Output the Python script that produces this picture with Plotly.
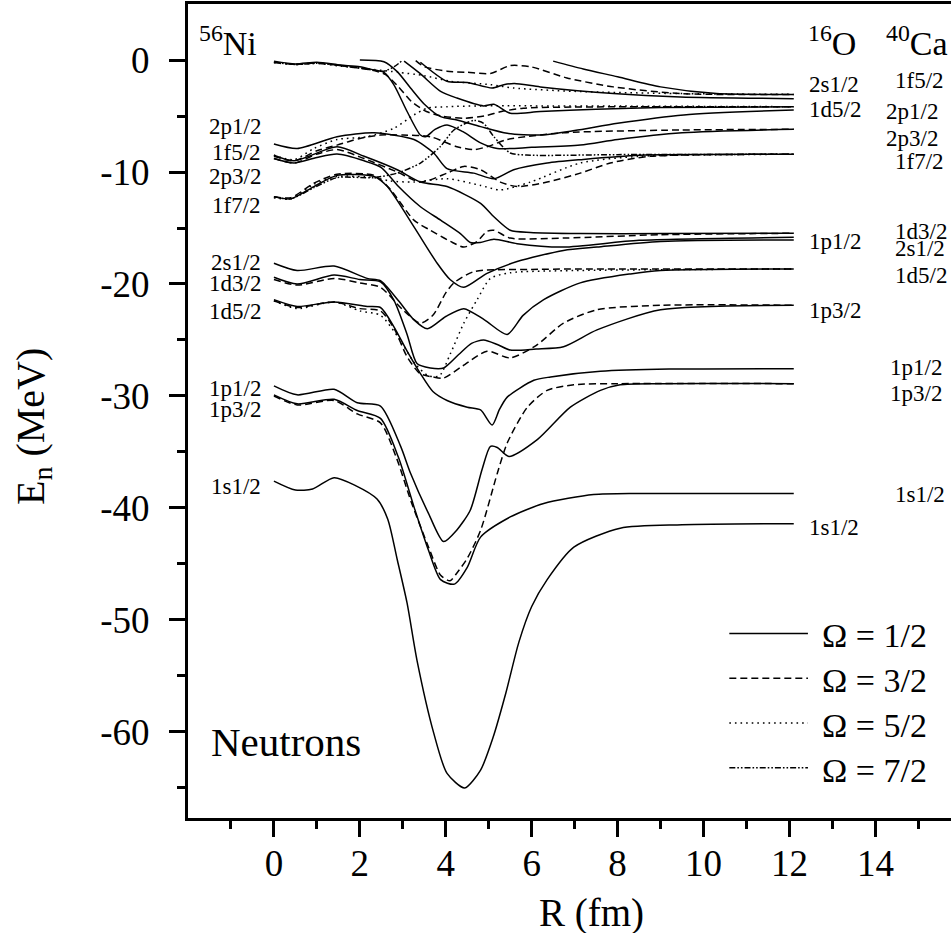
import plotly.graph_objects as go

FONT = "Liberation Serif"

# ---------------- Omega = 1/2 (solid) ----------------
R_s1 = [0, 0.5, 0.9, 1.4, 1.9, 2.4, 2.65, 2.87, 3.1, 3.33, 3.72, 4.03, 4.44, 4.81, 5.1, 5.4, 5.7, 6.0, 6.36, 6.98, 8.06, 9.5, 12.1]
E_s1 = [-37.6, -38.4, -38.3, -37.3, -38.0, -39.2, -41.0, -44.6, -48.5, -53.6, -60.1, -63.7, -65.0, -63.4, -60.5, -56.5, -52.0, -48.8, -46.4, -43.5, -41.8, -41.5, -41.4]

R_s2 = [0, 0.54, 1.4, 1.94, 2.48, 2.9, 3.26, 3.6, 3.88, 4.2, 4.5, 4.81, 5.5, 6.28, 7.44, 8.5, 12.1]
E_s2 = [-29.9, -30.7, -30.3, -31.3, -32.0, -35.5, -39.9, -43.8, -46.4, -46.8, -45.3, -42.6, -40.8, -39.6, -38.8, -38.7, -38.7]

R_s3 = [0, 0.54, 1.4, 1.94, 2.48, 2.95, 3.18, 3.6, 3.95, 4.25, 4.57, 4.85, 5.04, 5.2, 5.47, 6.13, 6.9, 7.6, 8.06, 9.0, 12.1]
E_s3 = [-29.1, -29.9, -29.4, -30.6, -30.9, -34.5, -36.9, -40.5, -43.0, -42.0, -40.2, -36.5, -34.5, -34.6, -35.4, -33.9, -31.0, -29.5, -29.0, -28.9, -28.9]

R_s4 = [0, 0.54, 1.4, 2.17, 2.48, 2.79, 3.1, 3.41, 3.7, 4.03, 4.5, 4.81, 5.08, 5.25, 5.43, 6.05, 6.44, 7.6, 9.2, 12.1]
E_s4 = [-21.4, -22.0, -21.6, -22.0, -22.1, -23.8, -26.0, -28.0, -29.6, -30.4, -31.0, -31.25, -32.6, -31.2, -30.1, -28.6, -28.3, -27.8, -27.6, -27.56]

R_s5 = [0, 0.54, 1.4, 2.0, 2.48, 2.8, 3.1, 3.33, 3.64, 3.95, 4.3, 4.6, 4.88, 5.2, 5.5, 6.1, 6.74, 7.52, 9.0, 12.1]
E_s5 = [-19.4, -20.0, -19.2, -19.6, -19.8, -21.5, -24.5, -27.1, -27.5, -27.5, -26.3, -25.3, -25.0, -25.4, -25.9, -25.8, -25.6, -24.1, -22.3, -21.9]

R_s6 = [0, 0.54, 1.4, 2.17, 2.48, 2.9, 3.26, 3.57, 4.0, 4.42, 4.9, 5.43, 5.8, 6.28, 7.13, 8.3, 9.0, 12.1]
E_s6 = [-18.15, -18.8, -18.4, -19.5, -19.7, -21.5, -23.2, -24.0, -22.9, -22.2, -23.2, -24.5, -22.8, -21.4, -19.9, -19.1, -18.8, -18.66]

R_s7 = [0, 0.39, 0.93, 1.47, 2.33, 2.64, 3.26, 3.8, 4.1, 4.42, 4.96, 5.66, 6.74, 7.52, 9.0, 12.1]
E_s7 = [-12.2, -12.4, -11.3, -10.3, -10.4, -11.3, -14.9, -18.15, -19.6, -20.3, -19.05, -18.0, -17.0, -16.7, -16.2, -16.07]

R_s8 = [0, 0.47, 1.0, 1.47, 2.1, 2.5, 2.9, 3.41, 3.88, 4.34, 4.57, 4.8, 5.12, 5.66, 6.74, 8.5, 12.1]
E_s8 = [-8.8, -9.2, -8.7, -8.4, -9.0, -9.6, -11.3, -13.1, -14.3, -15.5, -16.3, -16.3, -16.0, -16.4, -16.7, -16.1, -15.83]

R_s9 = [0, 0.47, 1.47, 2.1, 2.87, 3.41, 4.03, 4.81, 5.12, 5.5, 5.97, 7.13, 9.0, 12.1]
E_s9 = [-8.5, -9.0, -7.75, -8.6, -9.8, -10.9, -11.3, -12.8, -14.0, -15.2, -15.4, -15.5, -15.5, -15.47]

R_s10 = [0, 0.54, 1.47, 2.33, 3.26, 3.72, 4.03, 4.65, 5.12, 5.58, 6.36, 7.13, 8.5, 12.1]
E_s10 = [-7.5, -7.9, -6.85, -6.5, -7.1, -8.3, -9.7, -10.1, -10.6, -9.8, -9.2, -8.9, -8.5, -8.42]

R_s11 = [0, 0.5, 1.0, 1.55, 2.0, 2.33, 2.56, 2.79, 3.1, 3.41, 3.53, 3.75, 4.03, 4.4, 4.81, 5.2, 6.0, 7.13, 8.0, 9.5, 12.1]
E_s11 = [-0.1, -0.35, -0.2, -0.45, -0.6, -0.9, -1.1, -2.2, -4.6, -6.7, -6.85, -6.2, -5.8, -6.4, -7.4, -7.9, -7.8, -7.6, -7.1, -6.5, -6.19]

R_s12 = [2.0, 2.56, 2.87, 3.18, 3.49, 3.88, 4.26, 4.81, 5.43, 6.2, 7.0, 8.0, 9.54, 12.1]
E_s12 = [0.0, -0.15, -1.04, -2.5, -3.9, -5.06, -5.36, -5.95, -6.55, -6.7, -6.3, -5.65, -4.9, -4.46]

R_s13 = [3.03, 3.4, 3.88, 4.26, 4.88, 5.12, 5.5, 6.2, 7.5, 9.0, 12.1]
E_s13 = [-0.1, -1.2, -2.8, -3.4, -4.1, -3.96, -4.76, -4.6, -4.4, -4.25, -4.17]

R_s14 = [3.41, 4.03, 4.5, 5.08, 5.35, 5.6, 6.2, 7.9, 9.46, 12.1]
E_s14 = [-0.2, -1.9, -2.0, -2.5, -2.2, -2.1, -2.4, -3.0, -3.3, -3.45]

R_s15 = [6.5, 7.2, 8.0, 9.0, 10.3, 12.1]
E_s15 = [-0.1, -0.8, -1.5, -2.4, -3.0, -3.07]

# ---------------- Omega = 3/2 (dashed) ----------------
R_d1 = [0, 0.54, 1.4, 1.94, 2.48, 2.85, 3.2, 3.6, 3.88, 4.1, 4.26, 4.5, 4.81, 5.2, 5.43, 5.9, 6.36, 6.98, 8.0, 12.1]
E_d1 = [-30.0, -30.8, -30.4, -31.6, -32.4, -35.5, -39.5, -43.5, -46.0, -46.5, -45.8, -44.5, -42.0, -36.9, -34.2, -31.0, -29.5, -29.0, -28.9, -28.9]

R_d2 = [0, 0.54, 1.4, 2.0, 2.48, 2.8, 3.1, 3.4, 3.7, 3.95, 4.4, 4.96, 5.5, 6.1, 6.74, 7.52, 9.0, 12.1]
E_d2 = [-21.5, -22.1, -21.6, -22.2, -22.4, -24.0, -26.5, -28.0, -28.3, -28.4, -27.3, -26.0, -26.6, -25.5, -23.5, -22.3, -21.9, -21.9]

R_d3 = [0, 0.54, 1.4, 2.0, 2.48, 3.0, 3.41, 3.7, 4.0, 4.19, 4.65, 6.0, 12.1]
E_d3 = [-19.6, -20.1, -19.5, -19.9, -20.3, -22.3, -23.5, -22.8, -20.8, -19.9, -18.9, -18.7, -18.66]

R_d4 = [0, 0.39, 0.93, 1.47, 2.33, 2.7, 3.26, 3.64, 4.11, 4.42, 4.73, 4.96, 5.12, 5.5, 6.74, 9.0, 12.1]
E_d4 = [-12.2, -12.3, -11.0, -10.2, -10.3, -11.5, -14.3, -15.2, -16.2, -16.7, -16.2, -15.3, -15.2, -15.9, -15.9, -15.6, -15.47]

R_d5 = [0, 0.47, 1.0, 1.47, 2.1, 2.87, 3.41, 4.03, 4.42, 4.81, 5.27, 5.66, 6.36, 7.13, 7.83, 8.76, 12.1]
E_d5 = [-8.8, -9.2, -8.4, -8.0, -8.8, -10.0, -10.9, -10.1, -9.5, -9.8, -10.9, -11.3, -10.9, -10.1, -9.2, -8.6, -8.42]

R_d6 = [0, 0.47, 1.0, 1.47, 2.0, 2.48, 3.0, 3.64, 4.26, 4.65, 5.0, 5.43, 6.74, 9.46, 12.1]
E_d6 = [-8.6, -9.0, -8.1, -7.6, -7.0, -6.7, -6.7, -6.85, -7.74, -8.0, -7.7, -7.1, -6.5, -6.25, -6.19]

R_d7 = [0, 0.5, 1.0, 1.55, 2.33, 2.6, 2.9, 3.2, 3.55, 3.9, 4.4, 4.9, 5.3, 5.8, 7.0, 12.1]
E_d7 = [-0.2, -0.4, -0.25, -0.5, -0.95, -1.3, -2.4, -3.7, -4.6, -5.0, -5.2, -5.0, -4.6, -4.3, -4.2, -4.17]

R_d8 = [3.3, 3.5, 4.03, 4.5, 5.04, 5.5, 5.97, 6.82, 7.9, 9.46, 12.1]
E_d8 = [-0.05, -0.6, -1.0, -1.1, -1.2, -0.5, -0.6, -1.6, -2.4, -3.0, -3.07]

# ---------------- Omega = 5/2 (dotted) ----------------
R_t1 = [0, 0.54, 1.4, 2.0, 2.48, 2.9, 3.3, 3.6, 3.85, 4.11, 4.42, 4.73, 5.04, 5.5, 7.0, 12.1]
E_t1 = [-21.5, -22.2, -21.6, -22.4, -22.8, -24.8, -27.2, -28.2, -28.2, -26.2, -23.5, -21.4, -19.5, -19.0, -18.8, -18.66]

R_t2 = [0, 0.39, 0.93, 1.47, 2.33, 2.7, 3.26, 4.03, 4.81, 5.27, 5.97, 7.13, 8.5, 12.1]
E_t2 = [-12.3, -12.4, -11.1, -10.4, -10.5, -10.8, -10.9, -10.6, -11.2, -11.6, -10.9, -9.2, -8.6, -8.42]

R_t3 = [0, 0.47, 0.93, 1.47, 2.17, 2.79, 3.26, 3.57, 4.03, 4.81, 6.5, 12.1]
E_t3 = [-8.5, -8.9, -7.9, -7.1, -6.85, -6.1, -4.9, -4.3, -4.17, -4.1, -4.1, -4.17]

R_t4 = [0, 0.5, 1.0, 1.55, 2.33, 2.9, 3.5, 4.11, 5.04, 5.58, 7.0, 9.46, 12.1]
E_t4 = [-0.25, -0.4, -0.3, -0.55, -0.85, -1.1, -1.4, -1.9, -2.2, -2.5, -2.8, -3.0, -3.07]

# ---------------- Omega = 7/2 (dash-dot-dot) ----------------
R_h1 = [0, 0.39, 0.93, 1.47, 2.33, 2.87, 3.41, 3.88, 4.19, 4.65, 4.88, 5.12, 5.5, 5.97, 8.0, 12.1]
E_h1 = [-12.2, -12.4, -11.4, -10.5, -10.5, -10.1, -9.2, -7.7, -6.25, -5.4, -5.65, -6.85, -8.3, -8.5, -8.45, -8.42]

R_h2 = [0, 0.5, 1.0, 1.55, 2.33, 2.56, 2.8, 3.0]
E_h2 = [-0.2, -0.4, -0.3, -0.5, -0.9, -1.0, -0.6, 0.0]

# ---------------- labels ----------------
ni_labels = ["2p1/2", "1f5/2", "2p3/2", "1f7/2", "2s1/2", "1d3/2", "1d5/2", "1p1/2", "1p3/2", "1s1/2"]
ni_label_E = [-5.96, -8.3, -10.42, -12.95, -18.1, -19.94, -22.47, -29.31, -31.25, -38.1]

o_labels = ["2s1/2", "1d5/2", "1p1/2", "1p3/2", "1s1/2"]
o_label_E = [-2.23, -4.46, -16.2, -22.4, -41.7]

ca_labels = ["1f5/2", "2p1/2", "2p3/2", "1f7/2", "1d3/2", "2s1/2", "1d5/2", "1p1/2", "1p3/2", "1s1/2"]
ca_label_R = [14.41, 14.2, 14.2, 14.41, 14.41, 14.41, 14.41, 14.3, 14.3, 14.41]
ca_label_E = [-1.79, -4.6, -7.0, -9.08, -15.33, -16.8, -19.2, -27.5, -29.8, -38.8]

legend_text = ["Ω = 1/2", "Ω = 3/2", "Ω = 5/2", "Ω = 7/2"]

x_ticks = [0, 2, 4, 6, 8, 10, 12, 14]
y_ticks = [0, -10, -20, -30, -40, -50, -60]

DASH = {
    "solid": "solid",
    "dash": "7px,4px",
    "dot": "1.6px,4px",
    "dashdot": "6px,2px,1.6px,2px,1.6px,2px",
}

curves = [
    (R_s1, E_s1, "solid"), (R_s2, E_s2, "solid"), (R_s3, E_s3, "solid"),
    (R_s4, E_s4, "solid"), (R_s5, E_s5, "solid"), (R_s6, E_s6, "solid"),
    (R_s7, E_s7, "solid"), (R_s8, E_s8, "solid"), (R_s9, E_s9, "solid"),
    (R_s10, E_s10, "solid"), (R_s11, E_s11, "solid"), (R_s12, E_s12, "solid"),
    (R_s13, E_s13, "solid"), (R_s14, E_s14, "solid"), (R_s15, E_s15, "solid"),
    (R_d1, E_d1, "dash"), (R_d2, E_d2, "dash"), (R_d3, E_d3, "dash"),
    (R_d4, E_d4, "dash"), (R_d5, E_d5, "dash"), (R_d6, E_d6, "dash"),
    (R_d7, E_d7, "dash"), (R_d8, E_d8, "dash"),
    (R_t1, E_t1, "dot"), (R_t2, E_t2, "dot"), (R_t3, E_t3, "dot"), (R_t4, E_t4, "dot"),
    (R_h1, E_h1, "dashdot"), (R_h2, E_h2, "dashdot"),
]

fig = go.Figure()
for R, E, st in curves:
    fig.add_trace(go.Scatter(
        x=R, y=E, mode="lines",
        line=dict(color="black", width=1.5, dash=DASH[st], shape="spline", smoothing=0.7),
        showlegend=False, hoverinfo="skip",
    ))

LBL = dict(family=FONT, size=23, color="black")
ann = []
for t, e in zip(ni_labels, ni_label_E):
    ann.append(dict(x=-0.26, y=e, xref="x", yref="y", text=t, showarrow=False,
                    xanchor="right", yanchor="middle", font=LBL))
for t, e in zip(o_labels, o_label_E):
    ann.append(dict(x=12.4, y=e, xref="x", yref="y", text=t, showarrow=False,
                    xanchor="left", yanchor="middle", font=LBL))
for t, r, e in zip(ca_labels, ca_label_R, ca_label_E):
    ann.append(dict(x=r, y=e, xref="x", yref="y", text=t, showarrow=False,
                    xanchor="left", yanchor="middle", font=LBL))

big = dict(family=FONT, size=34, color="black")
ann.append(dict(x=-1.8, y=1.7, xref="x", yref="y", text="<sup>56</sup>Ni", showarrow=False,
                xanchor="left", yanchor="middle", font=big))
ann.append(dict(x=12.38, y=1.7, xref="x", yref="y", text="<sup>16</sup>O", showarrow=False,
                xanchor="left", yanchor="middle", font=big))
ann.append(dict(x=14.2, y=1.7, xref="x", yref="y", text="<sup>40</sup>Ca", showarrow=False,
                xanchor="left", yanchor="middle", font=big))
ann.append(dict(x=-1.52, y=-60.9, xref="x", yref="y", text="Neutrons", showarrow=False,
                xanchor="left", yanchor="middle", font=dict(family=FONT, size=41, color="black")))

# legend (drawn manually)
leg_y = [-51.2, -55.2, -59.2, -63.2]
leg_styles = ["solid", "dash", "dot", "dashdot"]
shapes = []
for yv, st, txt in zip(leg_y, leg_styles, legend_text):
    shapes.append(dict(type="line", xref="x", yref="y", x0=10.6, x1=12.43, y0=yv, y1=yv,
                       line=dict(color="black", width=1.5, dash=DASH[st])))
    ann.append(dict(x=12.72, y=yv - 0.2, xref="x", yref="y", text=txt, showarrow=False,
                    xanchor="left", yanchor="middle", font=dict(family=FONT, size=34, color="black")))

# axis titles
ann.append(dict(x=(591.7 - 188) / 763, y=(818 - 913) / 814, xref="paper", yref="paper",
                text="R (fm)", showarrow=False, xanchor="center", yanchor="middle",
                font=dict(family=FONT, size=39, color="black")))
ann.append(dict(x=(33 - 188) / 763, y=(818 - 427) / 814, xref="paper", yref="paper",
                text="E<sub>n</sub> (MeV)", showarrow=False, xanchor="center", yanchor="middle",
                textangle=-90, font=dict(family=FONT, size=40, color="black")))

fig.update_layout(
    width=951, height=933,
    margin=dict(l=188, r=0, t=4, b=115),
    paper_bgcolor="white", plot_bgcolor="white",
    annotations=ann, shapes=shapes,
    font=dict(family=FONT, color="black"),
    showlegend=False,
)
fig.update_xaxes(
    range=[-2, 15.76], showgrid=False, zeroline=False,
    showline=True, linewidth=3, linecolor="black", mirror=True,
    ticks="outside", ticklen=16, tickwidth=3, tickcolor="black",
    tickmode="array", tickvals=x_ticks, ticktext=[str(v) for v in x_ticks],
    tickfont=dict(family=FONT, size=37, color="black"), ticklabelstandoff=-5,
    minor=dict(ticks="outside", ticklen=8, tickwidth=3, tickcolor="black",
               tickmode="array", tickvals=[-1, 1, 3, 5, 7, 9, 11, 13, 15]),
)
fig.update_yaxes(
    range=[-67.68, 5.0], showgrid=False, zeroline=False,
    showline=True, linewidth=3, linecolor="black", mirror=False,
    ticks="outside", ticklen=16, tickwidth=3, tickcolor="black",
    tickmode="array", tickvals=y_ticks, ticktext=[str(v) for v in y_ticks],
    tickfont=dict(family=FONT, size=37, color="black"), ticklabelstandoff=12,
    minor=dict(ticks="outside", ticklen=8, tickwidth=3, tickcolor="black",
               tickmode="array", tickvals=[-5, -15, -25, -35, -45, -55, -65]),
)

fig.write_html("out.html", config={"displayModeBar": False},
               post_script="document.body.style.margin='0';document.body.style.overflow='hidden';")
